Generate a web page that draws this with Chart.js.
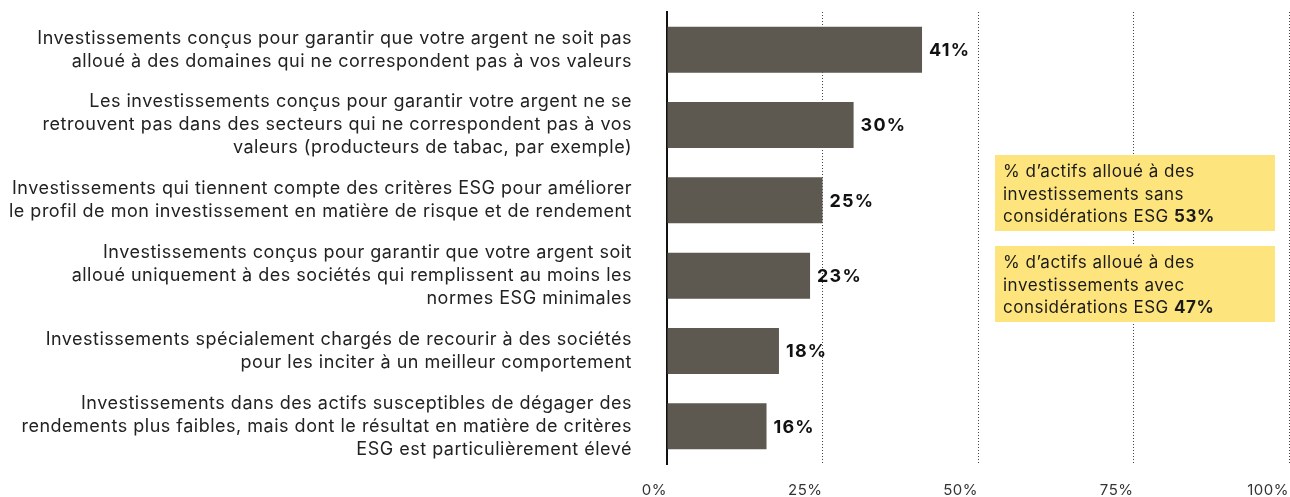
<!DOCTYPE html>
<html>
<head>
<meta charset="utf-8">
<script src="https://cdn.jsdelivr.net/npm/chart.js@4"></script>
<style>
  html, body { margin: 0; padding: 0; background: #fff; }
  #wrap { width: 1290px; height: 497px; position: relative; }
</style>
</head>
<body>
<div id="wrap"><canvas id="myChart"></canvas></div>
<script>
// categories (one array of lines per bar)
const categories = [
    ['Investissements conçus pour garantir que votre argent ne soit pas', 'alloué à des domaines qui ne correspondent pas à vos valeurs'],
    ['Les investissements conçus pour garantir votre argent ne se', 'retrouvent pas dans des secteurs qui ne correspondent pas à vos', 'valeurs (producteurs de tabac, par exemple)'],
    ['Investissements qui tiennent compte des critères ESG pour améliorer', 'le profil de mon investissement en matière de risque et de rendement'],
    ['Investissements conçus pour garantir que votre argent soit', 'alloué uniquement à des sociétés qui remplissent au moins les', 'normes ESG minimales'],
    ['Investissements spécialement chargés de recourir à des sociétés', 'pour les inciter à un meilleur comportement'],
    ['Investissements dans des actifs susceptibles de dégager des', 'rendements plus faibles, mais dont le résultat en matière de critères', 'ESG est particulièrement élevé']
];
const values = [41, 30, 25, 23, 18, 16];
const tickValues = [0, 25, 50, 75, 100];

// side notes
const noteLines = [
    ['% d\u2019actifs alloué à des', 'investissements sans', 'considérations ESG '],
    ['% d\u2019actifs alloué à des', 'investissements avec', 'considérations ESG ']
];
const noteValues = [53, 47];

const FONT = "Inter, 'Noto Sans', sans-serif";

// no extra padding from the tick labels, keep plot area where it is
function noPad(scale) {
    scale.paddingTop = 0;
    scale.paddingBottom = 0;
    scale.paddingLeft = 0;
    scale.paddingRight = 0;
}

const spacing = {
    id: 'spacing',
    beforeLayout(chart) { chart.ctx.letterSpacing = '0.5px'; },
    beforeDraw(chart) { chart.ctx.letterSpacing = '0.5px'; }
};

const valueLabels = {
    id: 'valueLabels',
    afterDatasetsDraw(chart) {
        const ctx = chart.ctx;
        const meta = chart.getDatasetMeta(0);
        ctx.save();
        ctx.letterSpacing = '1.2px';
        ctx.font = 'bold 18px ' + FONT;
        ctx.fillStyle = '#111';
        ctx.textAlign = 'left';
        ctx.textBaseline = 'middle';
        meta.data.forEach((bar, i) => {
            ctx.fillText(values[i] + '%', bar.x + 7, bar.y + 1);
        });
        ctx.restore();
    }
};

const notes = {
    id: 'notes',
    afterDraw(chart) {
        const ctx = chart.ctx;
        const area = chart.chartArea;
        const left = area.left + 328;
        const w = 280;
        const h = 76;
        ctx.save();
        ctx.letterSpacing = '0.5px';
        noteLines.forEach((lines, n) => {
            const top = area.top + 143 + n * 91;
            ctx.fillStyle = '#fde47c';
            ctx.fillRect(left, top, w, h);
            ctx.fillStyle = '#1a1a1a';
            ctx.textBaseline = 'middle';
            ctx.textAlign = 'left';
            lines.forEach((line, k) => {
                const y = top + 17 + k * 22.5;
                ctx.font = '17px ' + FONT;
                ctx.fillText(line, left + 8, y);
                if (k === lines.length - 1) {
                    const tw = ctx.measureText(line).width;
                    ctx.font = 'bold 17px ' + FONT;
                    ctx.fillText(noteValues[n] + '%', left + 8 + tw, y);
                }
            });
        });
        ctx.restore();
    }
};

const ctx1 = document.getElementById('myChart').getContext('2d');

const chart = new Chart(ctx1, {
    type: 'bar',
    data: {
        labels: categories,
        datasets: [{
            data: values,
            backgroundColor: '#5d5850',
            barPercentage: 0.61,
            categoryPercentage: 1
        }]
    },
    options: {
        indexAxis: 'y',
        responsive: true,
        maintainAspectRatio: false,
        animation: false,
        layout: { padding: { top: 12, right: 1, left: 0, bottom: 0 } },
        plugins: {
            legend: { display: false },
            tooltip: { enabled: false }
        },
        scales: {
            x: {
                min: 0,
                max: 100,
                afterBuildTicks(scale) {
                    scale.ticks = tickValues.map(v => ({ value: v }));
                },
                afterFit(scale) { scale.height = 33; noPad(scale); },
                grid: { color: '#444', lineWidth: 1, drawTicks: false },
                border: { display: false, dash: [1, 2] },
                ticks: {
                    align: 'end',
                    padding: 17,
                    color: '#333',
                    font: { family: FONT, size: 15 },
                    callback: v => v + '%'
                }
            },
            y: {
                afterFit(scale) { scale.width = 667; noPad(scale); },
                grid: { display: false, drawTicks: false },
                border: { display: true, color: '#111', width: 2 },
                ticks: {
                    padding: 35,
                    color: '#222',
                    font: { family: FONT, size: 18, lineHeight: 1.28 }
                }
            }
        }
    },
    plugins: [spacing, valueLabels, notes]
});
</script>
</body>
</html>
